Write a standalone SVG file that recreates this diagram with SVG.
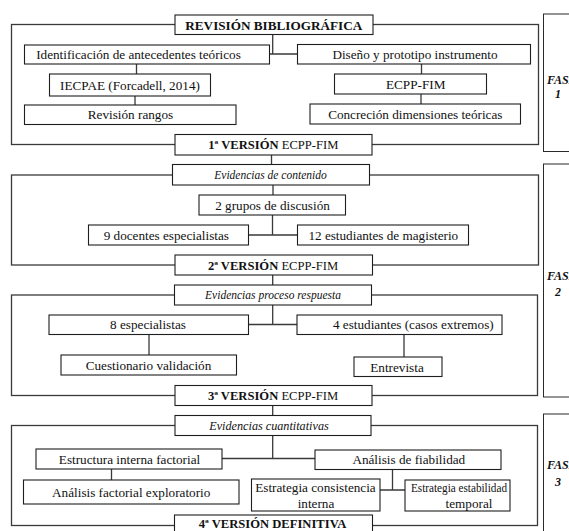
<svg xmlns="http://www.w3.org/2000/svg" width="569" height="531" viewBox="0 0 569 531" font-family="'Liberation Serif', 'Times New Roman', 'DejaVu Serif', serif">
<style>
text{font-family:'Liberation Serif','Times New Roman',Times,'DejaVu Serif',serif;fill:#111;text-anchor:middle;font-size:13.2px}
.b{font-weight:bold}
.i{font-style:italic;font-size:11.5px}
.v{font-size:12.6px}
.box{fill:#fff;stroke:#1e1e1e;stroke-width:1.1}
.frame{fill:none;stroke:#3a3a3a;stroke-width:1.3}
.con{fill:none;stroke:#3a3a3a;stroke-width:1.3}
.fase{fill:#fff;stroke:#2a2a2a;stroke-width:1}
.ft{font-weight:bold;font-style:italic;font-size:12px}
</style>
<rect width="569" height="531" fill="#fff"/>
<g id="phases">
<g id="fase1"><rect class="fase" x="543.5" y="14" width="60" height="137.5"/><text class="ft" x="547" y="84" style="text-anchor:start">FASE</text><text class="ft" x="558" y="98">1</text></g>
<g id="fase2"><rect class="fase" x="543.5" y="164" width="60" height="233"/><text class="ft" x="547" y="280" style="text-anchor:start">FASE</text><text class="ft" x="558" y="296">2</text></g>
<g id="fase3"><rect class="fase" x="543.5" y="414" width="60" height="130"/><text class="ft" x="547" y="469" style="text-anchor:start">FASE</text><text class="ft" x="558" y="486">3</text></g>
</g>
<g id="connectors">
<rect class="frame" x="11.5" y="24.5" width="527" height="120"/>
<rect class="frame" x="11.5" y="175" width="527" height="90"/>
<rect class="frame" x="11.5" y="295" width="526" height="100.5"/>
<rect class="frame" x="11.5" y="425.5" width="526" height="100"/>
<path class="con" d="M272.7 34.5V54M269.5 54H297.5M136.5 64V74M135 96V105M421.5 64V74M421 94V104M271.5 155V164.5M273 185V195M272.5 215V235M248.5 235H297.5M272.7 275V285M272.7 305V324.5M248.5 324.5H297M149 334.5V355M404 334.5V357M272.7 405.5V415.5M272.7 435.5V458.5M222 458.5H315M111.5 469V480M392.5 469.5V490M380 490H405"/>
</g>
<g id="revision"><rect class="box" x="175" y="15" width="198" height="19.5"/><text class="b" x="273.8" y="29.5">REVISIÓN BIBLIOGRÁFICA</text></g>
<g id="identificacion"><rect class="box" x="24.5" y="45" width="245" height="19"/><text x="138.5" y="59">Identificación de antecedentes teóricos</text></g>
<g id="iecpae"><rect class="box" x="49.5" y="74" width="161" height="22"/><text x="130" y="89.5">IECPAE (Forcadell, 2014)</text></g>
<g id="revrangos"><rect class="box" x="24.5" y="105" width="211.5" height="19.5"/><text x="130.5" y="119">Revisión rangos</text></g>
<g id="diseno"><rect class="box" x="297.5" y="44.5" width="233" height="19.5"/><text x="415" y="58.5">Diseño y prototipo instrumento</text></g>
<g id="ecpp1"><rect class="box" x="334.5" y="74" width="152" height="20"/><text x="415.7" y="88.5">ECPP-FIM</text></g>
<g id="concrecion"><rect class="box" x="310" y="104" width="210.5" height="20"/><text x="415.3" y="118.5">Concreción dimensiones teóricas</text></g>
<g id="v1"><rect class="box" x="175" y="134.5" width="197" height="20.5"/><text class="v" x="273.3" y="149"><tspan class="b">1ª VERSIÓN</tspan> ECPP-FIM</text></g>
<g id="evcont"><rect class="box" x="172.5" y="164.5" width="197" height="20.5"/><text class="i" x="270.5" y="179">Evidencias de contenido</text></g>
<g id="grupos"><rect class="box" x="199" y="195" width="146.5" height="20"/><text x="272.5" y="209.5">2 grupos de discusión</text></g>
<g id="docentes"><rect class="box" x="88.5" y="225" width="160" height="20"/><text x="166.3" y="239.5">9 docentes especialistas</text></g>
<g id="estudiantes12"><rect class="box" x="297.5" y="225" width="171" height="20"/><text x="383.3" y="239.5">12 estudiantes de magisterio</text></g>
<g id="v2"><rect class="box" x="175" y="255" width="197.5" height="20"/><text class="v" x="273" y="269.5"><tspan class="b">2ª VERSIÓN</tspan> ECPP-FIM</text></g>
<g id="evproc"><rect class="box" x="174.5" y="285" width="197" height="20"/><text class="i" x="273" y="299">Evidencias proceso respuesta</text></g>
<g id="esp8"><rect class="box" x="49" y="315" width="199.5" height="19.5"/><text x="148" y="329">8 especialistas</text></g>
<g id="est4"><rect class="box" x="297" y="315" width="205" height="19.5"/><text x="413.3" y="329">4 estudiantes (casos extremos)</text></g>
<g id="cuestionario"><rect class="box" x="61" y="355" width="175.5" height="20"/><text x="148.5" y="369.5">Cuestionario validación</text></g>
<g id="entrevista"><rect class="box" x="354" y="357" width="88" height="19.5"/><text x="397" y="371.5">Entrevista</text></g>
<g id="v3"><rect class="box" x="175" y="385.5" width="197" height="20"/><text class="v" x="273" y="400"><tspan class="b">3ª VERSIÓN</tspan> ECPP-FIM</text></g>
<g id="evcuant"><rect class="box" x="175" y="415.5" width="196" height="20"/><text class="i" x="269" y="430" style="font-size:12.2px">Evidencias cuantitativas</text></g>
<g id="estructura"><rect class="box" x="36" y="449" width="186" height="20"/><text x="129.5" y="463.5">Estructura interna factorial</text></g>
<g id="fiabilidad"><rect class="box" x="315" y="450" width="186" height="19.5"/><text x="408.8" y="464">Análisis de fiabilidad</text></g>
<g id="afe"><rect class="box" x="23.5" y="480" width="215.5" height="24"/><text x="131.2" y="496.5">Análisis factorial exploratorio</text></g>
<g id="consistencia"><rect class="box" x="251.5" y="479" width="128.5" height="32"/><text x="315.5" y="492">Estrategia consistencia</text><text x="316" y="508">interna</text></g>
<g id="estabilidad"><rect class="box" x="405" y="480" width="105" height="31"/><text x="459" y="492" style="font-size:12.4px" textLength="96" lengthAdjust="spacingAndGlyphs">Estrategia estabilidad</text><text x="469" y="508">temporal</text></g>
<g id="v4"><rect class="box" x="174.5" y="515" width="198" height="25"/><text class="b v" x="272.5" y="528">4ª VERSIÓN DEFINITIVA</text></g>
</svg>
